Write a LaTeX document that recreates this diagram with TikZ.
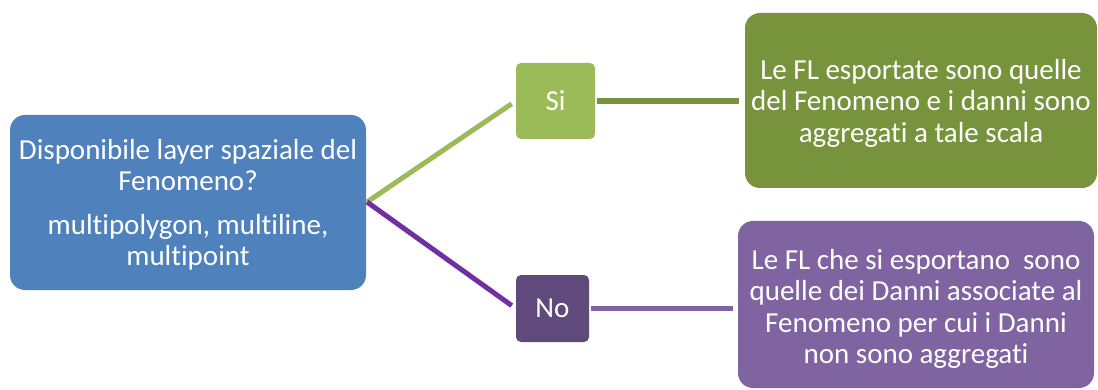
\documentclass[tikz,border=0pt]{standalone}
\usepackage{fontspec}
\setmainfont{Carlito}[Ligatures=NoCommon]
\definecolor{cblue}{HTML}{4F81BD}
\definecolor{clgreen}{HTML}{9BBB59}
\definecolor{cdgreen}{HTML}{77933C}
\definecolor{cnobox}{HTML}{604A7B}
\definecolor{cpurple}{HTML}{8064A2}
\definecolor{cpline}{HTML}{7030A0}
\begin{document}
\begin{tikzpicture}[x=1pt,y=-1pt,
  box/.style={rounded corners=15pt, inner sep=0pt},
  small/.style={rounded corners=5pt, inner sep=0pt},
  txt/.style={text=white, align=center, inner sep=0pt,
    font=\fontsize{29}{31.5}\selectfont},
  conn/.style={line width=5pt}]
\useasboundingbox (0,0) rectangle (1098,390);
\node[box, fill=cblue, minimum width=356pt, minimum height=175pt] (q) at (188,202.5) {};
\node[txt] (qt) at (188,205)
  {Disponibile layer spaziale del\\Fenomeno?\\[12pt]multipolygon, multiline,\\multipoint};
\node[small, fill=clgreen, minimum width=79pt, minimum height=76pt] (si) at (555.5,101) {};
\node[txt] (sit) at (si.center) {Si};
\node[small, fill=cnobox, minimum width=73pt, minimum height=67pt] (no) at (552.5,308.5) {};
\node[txt] (not) at (no.center) {No};
\node[box, fill=cdgreen, minimum width=352pt, minimum height=175pt] (g) at (921,100.5) {};
\node[txt] (gt) at (921,103)
  {Le FL esportate sono quelle\\del Fenomeno e i danni sono\\aggregati a tale scala};
\node[box, fill=cpurple, minimum width=356pt, minimum height=167pt] (p) at (916,304.5) {};
\node[txt] (pt) at (916,309)
  {Le FL che si esportano\ \ sono\\quelle dei Danni associate al\\Fenomeno per cui i Danni\\non sono aggregati};
\coordinate (j) at (367,202);
\draw[conn, clgreen, shorten >=5pt] (j) -- (si.west);
\draw[conn, cpline, shorten >=5pt] (j) -- (no.west);
\draw[line width=6pt, cdgreen, shorten <=2pt, shorten >=6pt] (si.east) -- (g.west |- si.east);
\draw[conn, cpurple, shorten <=2pt, shorten >=5pt] (no.east) -- (p.west |- no.east);
\end{tikzpicture}
\end{document}
